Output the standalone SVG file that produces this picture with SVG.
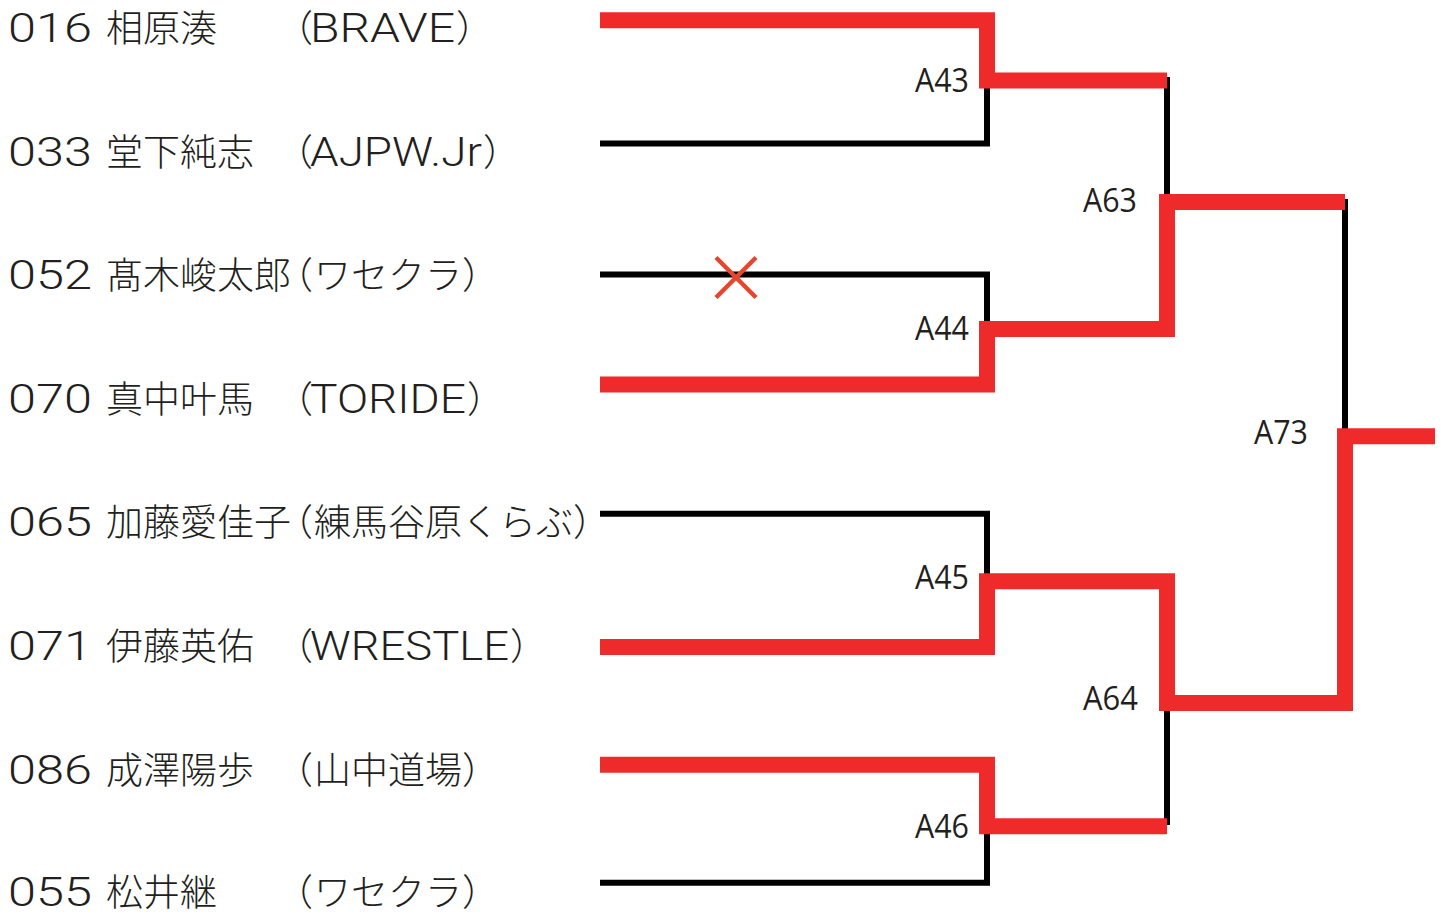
<svg xmlns="http://www.w3.org/2000/svg" width="1441" height="914" viewBox="0 0 1441 914">
<style>
.num{font-family:Roboto,"Liberation Sans",Arial,sans-serif;font-weight:300;font-size:40px;fill:#231f20}
.jp{font-family:"Noto Sans CJK JP","Noto Sans CJK SC",sans-serif;font-weight:300;font-size:37px;fill:#231f20}
.lat{font-family:Roboto,"Liberation Sans",Arial,sans-serif;font-weight:300;font-size:40px;fill:#231f20}
.lbl{font-family:"Open Sans","Noto Sans",sans-serif;font-size:32px;fill:#231f20;text-anchor:end}
.red{fill:none;stroke:#ee2a2b;stroke-width:16;stroke-linejoin:miter;stroke-linecap:butt}
.blk{fill:none;stroke:#000;stroke-width:6;stroke-linejoin:miter;stroke-linecap:butt}
.x{stroke:#e8452f;stroke-width:4.5;stroke-linecap:butt}
</style>
<rect width="1441" height="914" fill="#fff"/>
<g id="connectors">
  <path class="blk" d="M600,143.5 H987 V86"/>
  <path class="blk" d="M600,274.5 H987 V324"/>
  <path class="blk" d="M600,513.7 H987 V575"/>
  <path class="blk" d="M600,882.7 H987 V832"/>
  <path class="blk" d="M1167,77 V196"/>
  <path class="blk" d="M1167,709 V825"/>
  <path class="blk" d="M1345,199 V430"/>
  <path class="red" d="M600,20.3 H987 V80.5 H1167"/>
  <path class="red" d="M600,384.5 H987 V329 H1167 V202 H1345"/>
  <path class="red" d="M600,647 H987 V581.3 H1167 V703 H1345 V436.3 H1435"/>
  <path class="red" d="M600,764.7 H987 V826.3 H1167"/>
  <g id="loss-mark">
    <line class="x" x1="716" y1="257.5" x2="756" y2="297.5"/>
    <line class="x" x1="716" y1="297.5" x2="756" y2="257.5"/>
  </g>
</g>
<g id="p016"><text class="num" x="8" y="42" textLength="84" lengthAdjust="spacingAndGlyphs">016</text><text class="jp" x="106" y="42">相原湊<tspan x="276">（</tspan></text><text class="lat" x="310" y="42" textLength="145" lengthAdjust="spacingAndGlyphs">BRAVE</text><text class="jp" x="456" y="42">）</text></g>
<g id="p033"><text class="num" x="8" y="165.5" textLength="84" lengthAdjust="spacingAndGlyphs">033</text><text class="jp" x="106" y="165.5">堂下純志<tspan x="276">（</tspan></text><text class="lat" x="310" y="165.5" textLength="172" lengthAdjust="spacingAndGlyphs">AJPW.Jr</text><text class="jp" x="483" y="165.5">）</text></g>
<g id="p052"><text class="num" x="8" y="289" textLength="84" lengthAdjust="spacingAndGlyphs">052</text><text class="jp" x="106" y="289">髙木峻太郎<tspan x="276">（</tspan><tspan x="314">ワセクラ）</tspan></text></g>
<g id="p070"><text class="num" x="8" y="412.5" textLength="84" lengthAdjust="spacingAndGlyphs">070</text><text class="jp" x="106" y="412.5">真中叶馬<tspan x="276">（</tspan></text><text class="lat" x="310" y="412.5" textLength="156" lengthAdjust="spacingAndGlyphs">TORIDE</text><text class="jp" x="467" y="412.5">）</text></g>
<g id="p065"><text class="num" x="8" y="536" textLength="84" lengthAdjust="spacingAndGlyphs">065</text><text class="jp" x="106" y="536">加藤愛佳子<tspan x="276">（</tspan><tspan x="314">練馬谷原くらぶ）</tspan></text></g>
<g id="p071"><text class="num" x="8" y="659.5" textLength="84" lengthAdjust="spacingAndGlyphs">071</text><text class="jp" x="106" y="659.5">伊藤英佑<tspan x="276">（</tspan></text><text class="lat" x="310" y="659.5" textLength="199" lengthAdjust="spacingAndGlyphs">WRESTLE</text><text class="jp" x="510" y="659.5">）</text></g>
<g id="p086"><text class="num" x="8" y="783.5" textLength="84" lengthAdjust="spacingAndGlyphs">086</text><text class="jp" x="106" y="783.5">成澤陽歩<tspan x="276">（</tspan><tspan x="314">山中道場）</tspan></text></g>
<g id="p055"><text class="num" x="8" y="905.5" textLength="84" lengthAdjust="spacingAndGlyphs">055</text><text class="jp" x="106" y="905.5">松井継<tspan x="276">（</tspan><tspan x="314">ワセクラ）</tspan></text></g>
<g id="A43"><text class="lbl" x="969" y="91.7" textLength="54" lengthAdjust="spacingAndGlyphs">A43</text></g>
<g id="A44"><text class="lbl" x="969" y="340" textLength="54" lengthAdjust="spacingAndGlyphs">A44</text></g>
<g id="A45"><text class="lbl" x="969" y="589.3" textLength="54" lengthAdjust="spacingAndGlyphs">A45</text></g>
<g id="A46"><text class="lbl" x="969" y="837.7" textLength="54" lengthAdjust="spacingAndGlyphs">A46</text></g>
<g id="A63"><text class="lbl" x="1137" y="211.7" textLength="54" lengthAdjust="spacingAndGlyphs">A63</text></g>
<g id="A64"><text class="lbl" x="1138" y="710" textLength="55" lengthAdjust="spacingAndGlyphs">A64</text></g>
<g id="A73"><text class="lbl" x="1308" y="444.3" textLength="54" lengthAdjust="spacingAndGlyphs">A73</text></g>
</svg>
